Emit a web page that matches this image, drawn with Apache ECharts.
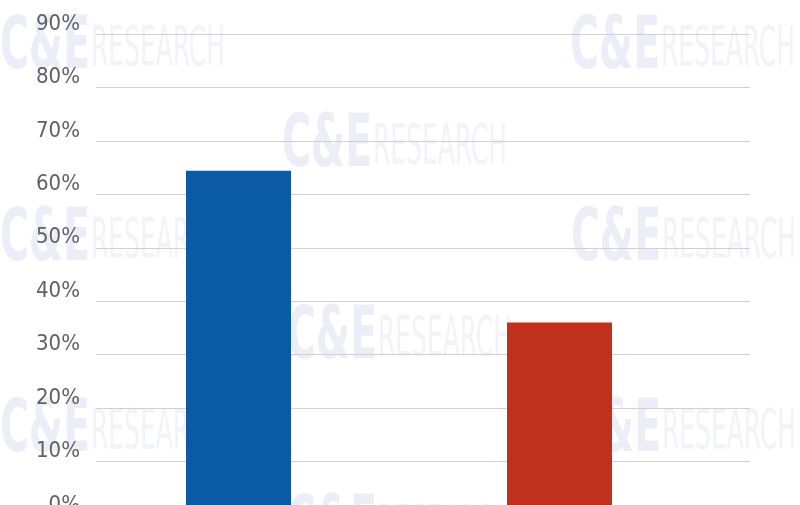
<!DOCTYPE html>
<html>
<head>
<meta charset="utf-8">
<script src="https://cdn.jsdelivr.net/npm/echarts@6/dist/echarts.min.js"></script>
<style>
html,body{margin:0;padding:0;background:#fff;}
#chart{width:800px;height:505px;}
</style>
</head>
<body>
<div id="chart"></div>
<script>
const categories = ['Option A', 'Option B'];
const values = [64.4, 36];
const barColors = ['#0b5aa6', '#bf311d'];
const tickValues = [0, 10, 20, 30, 40, 50, 60, 70, 80, 90];

const FONT = "'DejaVu Sans Condensed', 'DejaVu Sans', sans-serif";

// measure helper for squeezing watermark text horizontally
const mctx = document.createElement('canvas').getContext('2d');
function squeeze(text, font, target) {
  mctx.font = font;
  return target / mctx.measureText(text).width;
}
const logoFont = 'bold 73px ' + FONT;
const wordFont = '55px ' + FONT;
const logoScale = squeeze('C&E', logoFont, 90);
const wordScale = squeeze('RESEARCH', wordFont, 134);

function watermark(x, y) {
  return [
    { type: 'text', x: x, y: y - 2, scaleX: logoScale, z: -10, silent: true,
      style: { text: 'C&E', font: logoFont, fill: '#ededf8', verticalAlign: 'top' } },
    { type: 'text', x: x + 91, y: y + 8, scaleX: wordScale, z: -10, silent: true,
      style: { text: 'RESEARCH', font: wordFont, fill: '#f2f2fa', verticalAlign: 'top' } }
  ];
}
const wmPositions = [[0, 15], [570, 15], [282, 113], [0, 207], [571, 207], [287, 305], [0, 398], [571, 398], [287, 494]];
let graphics = [];
wmPositions.forEach(p => { graphics = graphics.concat(watermark(p[0], p[1])); });

const chart = echarts.init(document.getElementById('chart'));
chart.setOption({
  animation: false,
  backgroundColor: '#fff',
  graphic: graphics,
  grid: [
    { left: 96, right: 50, top: 34, height: 481, containLabel: false, outerBoundsMode: 'none' },
    { left: 78, right: 80, top: 34, height: 481, containLabel: false, outerBoundsMode: 'none' }
  ],
  xAxis: [
    { gridIndex: 0, type: 'value', min: 0, max: 1, show: false },
    { gridIndex: 1, type: 'category', data: categories, show: false }
  ],
  yAxis: [
    {
      gridIndex: 0, type: 'value', min: tickValues[0], max: tickValues[tickValues.length - 1], interval: 10,
      axisLine: { show: false }, axisTick: { show: false },
      splitLine: { lineStyle: { color: '#cfcfd4', width: 1 } },
      axisLabel: {
        formatter: v => v + '%',
        fontFamily: FONT, fontSize: 22, color: '#606067',
        margin: 16, verticalAlign: 'bottom', lineHeight: 20
      }
    },
    { gridIndex: 1, type: 'value', min: tickValues[0], max: tickValues[tickValues.length - 1], show: false }
  ],
  series: [{
    type: 'bar',
    xAxisIndex: 1, yAxisIndex: 1,
    barWidth: 105,
    z: 5,
    data: values.map((v, i) => ({ value: v, itemStyle: { color: barColors[i] } }))
  }]
});
</script>
</body>
</html>
